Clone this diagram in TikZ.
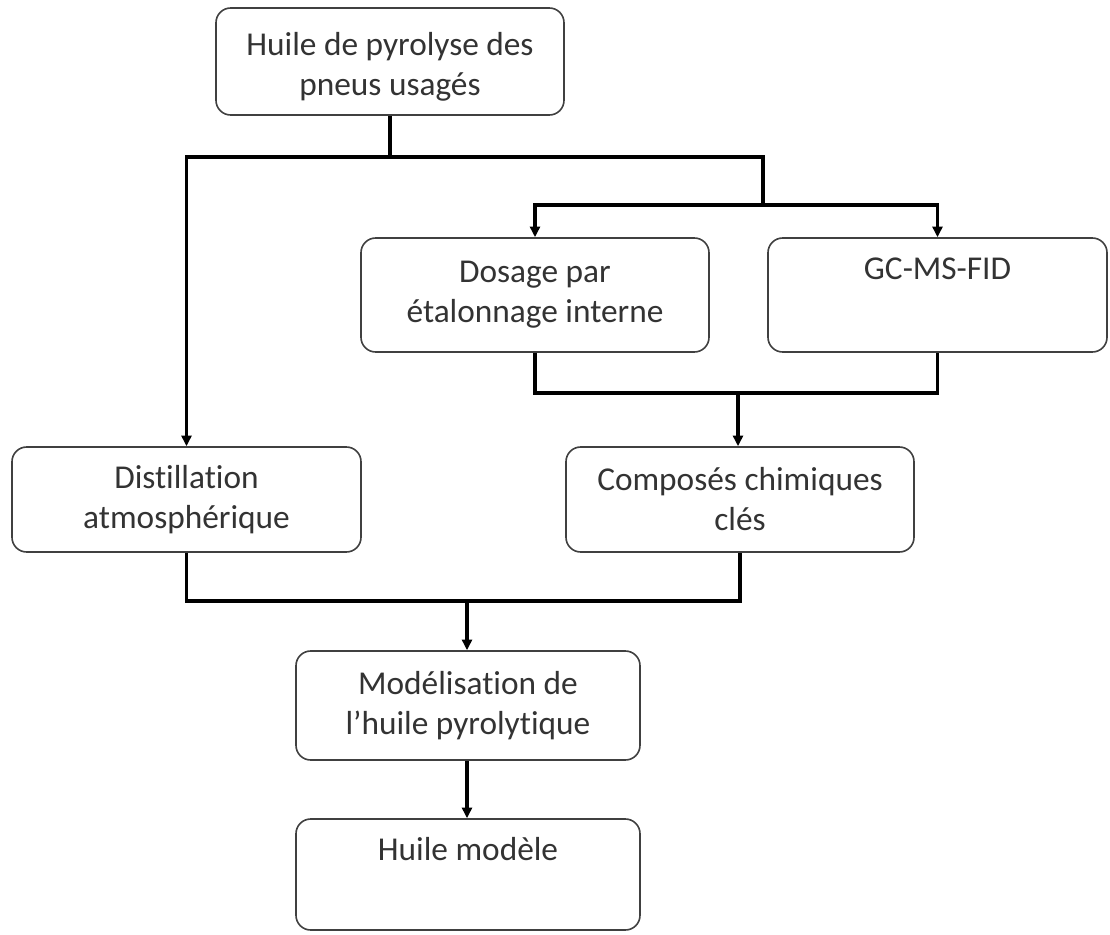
\documentclass[tikz,border=0pt]{standalone}
\usepackage{fontspec}
\setmainfont[Ligatures=NoCommon]{Carlito}
\usepackage{tikz}
\usetikzlibrary{arrows.meta, positioning, calc}

\begin{document}
\begin{tikzpicture}[x=0.75pt, y=-0.75pt,
    boite/.style={draw=black!75, line width=1.2pt, rounded corners=11pt, fill=white,
      align=center, text=black!80, font=\fontsize{25}{30}\selectfont, inner sep=0pt},
    fleche/.style={line width=2.3pt, -{Triangle[length=8pt, width=7.5pt]}},
    trait/.style={line width=2.3pt}]
  \useasboundingbox (0,0) rectangle (1110,935);

  % Boites
  \node[boite, minimum width=261pt, minimum height=80.25pt] (huile) at (390,61.5) {\raisebox{0pt}[\dimexpr\height+7.5pt]{Huile de pyrolyse des}\\pneus usagés};
  \node[boite, minimum width=261pt, minimum height=85.5pt] (dosage) at (535,295) {Dosage par\\étalonnage interne};
  \node[boite, minimum width=254.25pt, minimum height=85.5pt] (gc) at (937.5,295) {GC-MS-FID\\\strut};
  \node[boite, minimum width=261.75pt, minimum height=78.75pt] (distil) at (186.5,499.5) {Distillation\\atmosphérique};
  \node[boite, minimum width=261pt, minimum height=78.75pt] (compos) at (740,499.5) {Composés chimiques\\clés};
  \node[boite, minimum width=258pt, minimum height=81.75pt] (modelis) at (468,705.5) {Modélisation de\\l’huile pyrolytique};
  \node[boite, minimum width=258pt, minimum height=83.25pt] (modele) at (468,874.5) {Huile modèle\\\strut};

  % Jonctions
  \coordinate (j1) at (390,157);
  \coordinate (j2) at (763,205);
  \coordinate (j3) at (738,393);
  \coordinate (j4) at (467,601);

  % Connecteurs
  \draw[trait] (huile.south) -- (j1);
  \draw[fleche] (j1) -| (distil.north);
  \draw[trait] (j1) -| (j2);
  \draw[fleche] (j2) -| (dosage.north);
  \draw[fleche] (j2) -| (gc.north);
  \draw[trait] (dosage.south) |- (j3) -| (gc.south);
  \draw[fleche] (j3) -- (j3 |- compos.north);
  \draw[trait] (distil.south) |- (j4) -| (compos.south);
  \draw[fleche] (j4) -- (j4 |- modelis.north);
  \draw[fleche] (modelis.south -| j4) -- (modele.north -| j4);
\end{tikzpicture}
\end{document}
